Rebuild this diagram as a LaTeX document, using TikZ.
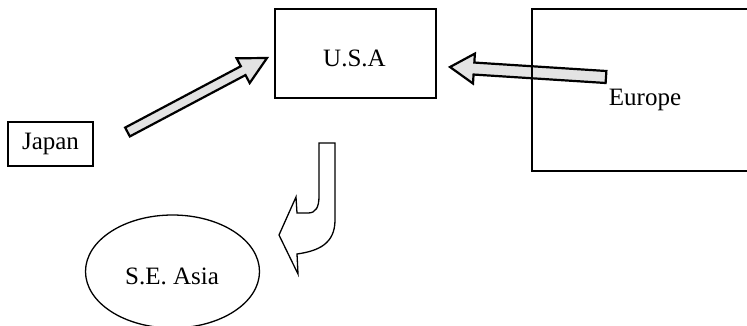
\documentclass[tikz,border=0pt]{standalone}
\usepackage{fontspec}
\setmainfont{Liberation Serif}
\usetikzlibrary{calc,shapes.geometric}
\tikzset{
  boxnode/.style={draw=black, line width=1.3pt, inner sep=0pt},
  lbl/.style={inner sep=0pt, font=\fontsize{25}{29}\selectfont},
  fatarrow/.style={draw=black, line width=2.2pt, line join=miter, fill=gray!22},
  jarrow/.style={draw=black, line width=1.3pt, line join=miter, fill=white}
}
\begin{document}
\begin{tikzpicture}[x=1pt,y=-1pt]
\useasboundingbox (0,0) rectangle (747,325);
\clip (0,0) rectangle (747,325);
% Japan -> USA arrow
\coordinate (ja) at (127.5,132);
\coordinate (jb) at (267,58);
\coordinate (jc) at ($(jb)!27pt!(ja)$);
\draw[fatarrow] ($(ja)!5pt!90:(jb)$) -- ($(jc)!5pt!90:(jb)$) -- ($(jc)!14pt!90:(jb)$) -- (jb)
  -- ($(jc)!14pt!-90:(jb)$) -- ($(jc)!5pt!-90:(jb)$) -- ($(ja)!5pt!-90:(jb)$) -- cycle;
% Europe -> USA arrow
\coordinate (ea) at (606,77);
\coordinate (eb) at (450,67);
\coordinate (ec) at ($(eb)!24pt!(ea)$);
\draw[fatarrow] ($(ea)!6pt!90:(eb)$) -- ($(ec)!6pt!90:(eb)$) -- ($(ec)!15pt!90:(eb)$) -- (eb)
  -- ($(ec)!15pt!-90:(eb)$) -- ($(ec)!6pt!-90:(eb)$) -- ($(ea)!6pt!-90:(eb)$) -- cycle;
% boxes
\node[boxnode, minimum width=161pt, minimum height=89pt] (usabox) at (355.5,53.5) {};
\node[lbl] (usa) at (354.5,58) {U.S.A};
\node[boxnode, minimum width=240pt, minimum height=162pt] (eurbox) at (652,90) {};
\node[lbl] (eur) at (645,100) {Europe};
\node[boxnode, lbl, minimum width=85pt, minimum height=44pt] (jap) at (50.5,144) {Japan};
\node[boxnode, ellipse, minimum width=174pt, minimum height=113pt] (asiaell) at (172.5,271.5) {};
\node[lbl] (asia) at (172,276) {S.E. Asia};
% USA -> S.E. Asia curved arrow
\draw[jarrow] (319,143) -- (335,143) -- (335,220)
  .. controls (335,244) and (318,251) .. (297,254)
  -- (298,274) -- (279,235) -- (296,197) -- (297,213)
  -- (308,213) .. controls (316,213) and (319,207) .. (319,196) -- cycle;
\end{tikzpicture}
\end{document}
